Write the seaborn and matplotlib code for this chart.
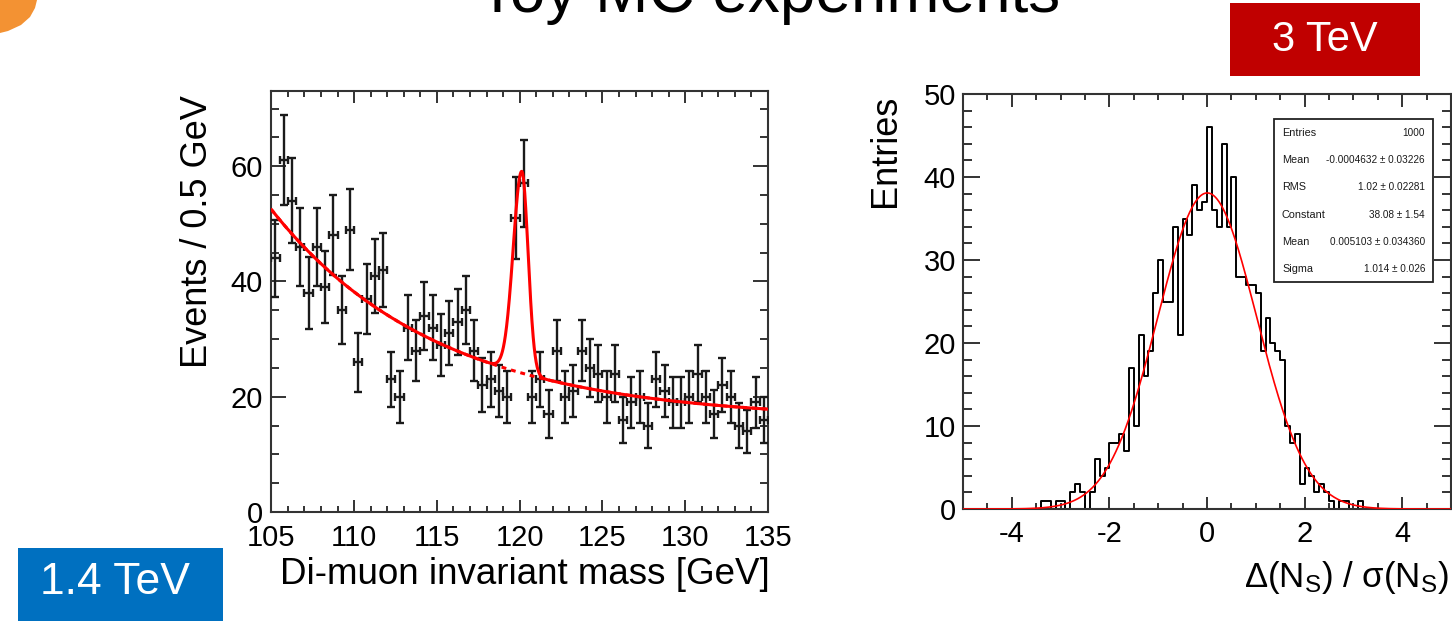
import numpy as np
import pandas as pd
import matplotlib
matplotlib.use("Agg")
import matplotlib.pyplot as plt
import seaborn as sns
from matplotlib.patches import Rectangle, Polygon
from matplotlib.ticker import MultipleLocator

# ---------------- data ----------------
# left panel: di-muon invariant mass toy experiment, 0.5 GeV bins from 105 to 135 GeV
mass_lo, mass_hi, mass_bin = 105.0, 135.0, 0.5
mass_counts = [44, 61, 54, 46, 38, 46, 39, 48, 35, 49,
               26, 37, 41, 42, 23, 20, 32, 28, 34, 32,
               29, 31, 33, 35, 28, 22, 23, 21, 20, 51,
               57, 20, 23, 17, 28, 20, 21, 28, 25, 24,
               20, 24, 16, 19, 20, 15, 23, 21, 19, 19,
               20, 24, 20, 17, 22, 20, 15, 14, 19, 16]
# fit parameters (background: exponential + constant; signal: asymmetric gaussian peak)
bg_const, bg_amp, bg_tau = 16.0, 36.5, 10.05
sig_amp, sig_mean, sig_sigma_left, sig_sigma_right = 35.0, 120.13, 0.52, 0.38

# right panel: pull distribution, 100 bins from -5 to 5
pull_lo, pull_hi, pull_nbins = -5.0, 5.0, 100
pull_counts = [0, 0, 0, 0, 0, 0, 0, 0, 0, 0,
               0, 0, 0, 0, 0, 0, 1, 1, 0, 1,
               1, 0, 2, 3, 2, 0, 2, 6, 4, 5,
               8, 8, 9, 7, 17, 10, 21, 16, 19, 26,
               30, 25, 25, 34, 21, 35, 33, 39, 36, 37,
               46, 36, 34, 44, 34, 40, 28, 28, 27, 27,
               26, 19, 23, 20, 19, 18, 10, 8, 9, 3,
               5, 4, 2, 3, 2, 1, 0, 1, 1, 0,
               0, 1, 0, 0, 0, 0, 0, 0, 0, 0,
               0, 0, 0, 0, 0, 0, 0, 0, 0, 0]
gaus_const, gaus_mean, gaus_sigma = 38.08, 0.005103, 1.014
stats_names = ["Entries", "Mean", "RMS", "Constant", "Mean", "Sigma"]
stats_values = ["1000", "-0.0004632 \u00b1 0.03226", "1.02 \u00b1 0.02281",
                "38.08 \u00b1 1.54", "0.005103 \u00b1 0.034360", "1.014 \u00b1 0.026"]

# ---------------- style ----------------
sns.set_style("white")
plt.rcParams["font.family"] = ["Liberation Sans", "DejaVu Sans"]
plt.rcParams["mathtext.default"] = "regular"
plt.rcParams["axes.unicode_minus"] = False
for k in ("text.color", "axes.labelcolor", "xtick.labelcolor", "ytick.labelcolor"):
    plt.rcParams[k] = "black"

W, H = 1452, 621
fig = plt.figure(figsize=(W / 100, H / 100), dpi=100)
fig.patch.set_facecolor("white")


def rect(x0, y0, x1, y1):
    return [x0 / W, 1 - y1 / H, (x1 - x0) / W, (y1 - y0) / H]


def fx(x):
    return x / W


def fy(y):
    return 1 - y / H


frame_col = "#333333"
axL = fig.add_axes(rect(271.3, 90.7, 768, 512))
axR = fig.add_axes(rect(963, 94, 1451, 509))

for ax in (axL, axR):
    for s in ax.spines.values():
        s.set_color(frame_col)
        s.set_linewidth(1.5)
    ax.set_facecolor("white")

# ---------------- left panel ----------------
edges = np.arange(mass_lo, mass_hi + 1e-9, mass_bin)
centers = 0.5 * (edges[:-1] + edges[1:])
dfL = pd.DataFrame({"mass": centers, "events": mass_counts})
axL.errorbar(dfL["mass"], dfL["events"], xerr=mass_bin / 2,
             yerr=np.sqrt(dfL["events"]), fmt="none", ecolor="#1a1a1a",
             elinewidth=1.7, capsize=3.2, capthick=1.7, zorder=3)

xf = np.linspace(mass_lo, mass_hi, 2000)
bg = bg_const + bg_amp * np.exp(-(xf - mass_lo) / bg_tau)
sig_w = np.where(xf < sig_mean, sig_sigma_left, sig_sigma_right)
sig = sig_amp * np.exp(-0.5 * ((xf - sig_mean) / sig_w) ** 2)
sns.lineplot(x=xf, y=bg, ax=axL, color="red", linewidth=2.2,
             linestyle=(0, (1.6, 1.6)), zorder=4)
sns.lineplot(x=xf, y=bg + sig, ax=axL, color="red", linewidth=2.2, zorder=5)

axL.set_xlim(mass_lo, mass_hi)
axL.set_ylim(0, 73.1)
axL.xaxis.set_major_locator(MultipleLocator(5))
axL.xaxis.set_minor_locator(MultipleLocator(1))
axL.yaxis.set_major_locator(MultipleLocator(20))
axL.yaxis.set_minor_locator(MultipleLocator(5))
axL.tick_params(axis="x", which="major", direction="in", top=True, bottom=True,
                length=8.5, width=1.4, color=frame_col, labelsize=21, pad=9,
                labelcolor="black")
axL.tick_params(axis="x", which="minor", direction="in", top=True, bottom=True,
                length=4.3, width=1.4, color=frame_col)
axL.tick_params(axis="y", which="major", direction="in", left=True, right=True,
                length=10.8, width=1.4, color=frame_col, labelsize=21, pad=6,
                labelcolor="black")
axL.tick_params(axis="y", which="minor", direction="in", left=True, right=True,
                length=5.8, width=1.4, color=frame_col)
axL.set_xlabel("")
axL.set_ylabel("")

# ---------------- right panel ----------------
pedges = np.linspace(pull_lo, pull_hi, pull_nbins + 1)
pcent = 0.5 * (pedges[:-1] + pedges[1:])
dfR = pd.DataFrame({"pull": pcent, "entries": pull_counts})
sns.histplot(data=dfR, x="pull", weights="entries", bins=pull_nbins,
             binrange=(pull_lo, pull_hi), element="step", fill=False,
             color="black", linewidth=1.4, ax=axR)
xg = np.linspace(pull_lo, pull_hi, 1000)
yg = gaus_const * np.exp(-0.5 * ((xg - gaus_mean) / gaus_sigma) ** 2)
sns.lineplot(x=xg, y=yg, ax=axR, color="red", linewidth=1.2, zorder=5)

axR.set_xlim(pull_lo, pull_hi)
axR.set_ylim(0, 50)
axR.xaxis.set_major_locator(MultipleLocator(2))
axR.xaxis.set_minor_locator(MultipleLocator(0.5))
axR.yaxis.set_major_locator(MultipleLocator(10))
axR.yaxis.set_minor_locator(MultipleLocator(2))
axR.tick_params(axis="x", which="major", direction="in", top=True, bottom=True,
                length=9, width=1.4, color=frame_col, labelsize=21, pad=8,
                labelcolor="black")
axR.tick_params(axis="x", which="minor", direction="in", top=True, bottom=True,
                length=4.5, width=1.4, color=frame_col)
axR.tick_params(axis="y", which="major", direction="in", left=True, right=True,
                length=12, width=1.4, color=frame_col, labelsize=21, pad=5,
                labelcolor="black")
axR.tick_params(axis="y", which="minor", direction="in", left=True, right=True,
                length=6.8, width=1.4, color=frame_col)
axR.set_xlabel("")
axR.set_ylabel("")

# stats box
fig.patches.append(Rectangle((fx(1274), fy(282)), fx(1433) - fx(1274), fy(119) - fy(282),
                             transform=fig.transFigure, fill=True, facecolor="white",
                             edgecolor="#222222", linewidth=1.3, zorder=10))
for i, (n, v) in enumerate(zip(stats_names, stats_values)):
    yy = 133 + i * 27.2
    fig.text(fx(1282), fy(yy), n, ha="left", va="center", fontsize=7.8, color="#1a1a1a", zorder=11)
    fig.text(fx(1425), fy(yy), v, ha="right", va="center", fontsize=7.2, color="#1a1a1a", zorder=11)

# ---------------- labels ----------------
fig.text(fx(197), fy(95), "Events / 0.5 GeV", rotation=90, ha="center", va="top", fontsize=26)
fig.text(fx(770), fy(575), "Di-muon invariant mass [GeV]", ha="right", va="center", fontsize=26.5)
fig.text(fx(886), fy(95), "Entries", rotation=90, ha="center", va="top", fontsize=26)
fig.text(fx(1449), fy(578), "\u0394(N$_{S}$) / \u03c3(N$_{S}$)", ha="right", va="center", fontsize=25)

# slide decorations
fig.text(fx(769), fy(12), "Toy MC experiments", ha="center", va="baseline", fontsize=46, color="black")
fig.patches.append(Rectangle((fx(1230), fy(76)), fx(1420) - fx(1230), fy(3) - fy(76),
                             transform=fig.transFigure, facecolor="#C00000", edgecolor="none"))
fig.text(fx(1325), fy(40), "3 TeV", ha="center", va="center", fontsize=30, color="white")
fig.patches.append(Rectangle((fx(18), fy(625)), fx(223) - fx(18), fy(548) - fy(625),
                             transform=fig.transFigure, facecolor="#0070C0", edgecolor="none"))
fig.text(fx(115), fy(583), "1.4 TeV", ha="center", va="center", fontsize=32, color="white")
logo = [(0, 0), (37, 0), (35, 8), (30, 17), (21, 25), (8, 31), (0, 33)]
fig.patches.append(Polygon([(fx(a), fy(b)) for a, b in logo], closed=True,
                           transform=fig.transFigure, facecolor="#F39233", edgecolor="none"))

fig.savefig("out.png", dpi=100, facecolor="white")
